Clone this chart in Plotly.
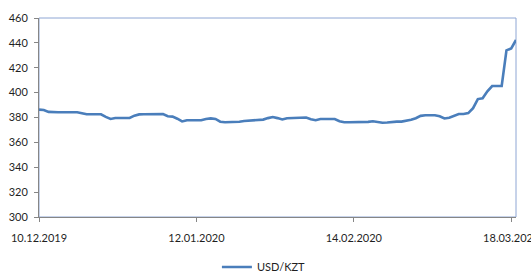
import pandas as pd
import plotly.graph_objects as go

start_date = "2019-12-10"
end_date = "2020-03-19"
dates = pd.date_range(start_date, end_date, freq="D")

usd_kzt = [
    386.3, 386.0, 384.5, 384.2, 384.2, 384.2, 384.2, 384.2, 384.2, 383.5,
    382.6, 382.6, 382.6, 382.6, 380.5, 378.8, 379.6, 379.6, 379.6, 379.6,
    381.5, 382.5, 382.6, 382.8, 382.8, 382.8, 382.8, 381.0, 380.7, 379.0,
    376.8, 377.8, 377.8, 377.8, 377.8, 378.8, 379.3, 378.8, 376.6, 376.2,
    376.2, 376.2, 376.6, 377.2, 377.6, 378.0, 378.3, 378.3, 379.5, 380.4,
    379.5, 378.4, 379.4, 379.4, 379.4, 380.0, 380.0, 378.6, 377.8, 378.8,
    378.8, 378.8, 378.8, 377.0, 376.2, 376.2, 376.2, 376.2, 376.2, 376.5,
    377.0, 376.4, 375.8, 376.0, 376.5, 376.7, 376.7, 377.3, 378.2, 379.4,
    381.3, 381.8, 381.8, 381.8, 381.0, 379.2, 379.8, 381.5, 382.8, 382.8,
    383.5, 387.5, 394.8, 395.5, 401.0, 405.3, 405.3, 405.3, 434.0, 435.5,
    442.3,
]

tick_dates = ["2019-12-10", "2020-01-12", "2020-02-14", "2020-03-18"]
tick_labels = ["10.12.2019", "12.01.2020", "14.02.2020", "18.03.2020"]

y_ticks = [300, 320, 340, 360, 380, 400, 420, 440, 460]
series_name = "USD/KZT"

fig = go.Figure()
fig.add_trace(go.Scatter(
    x=dates, y=usd_kzt, mode="lines", name=series_name,
    line=dict(color="#4A7EBB", width=2.6),
))

fig.add_shape(type="rect", xref="paper", yref="paper", x0=0, y0=0, x1=1, y1=1,
              line=dict(color="#8EA6D4", width=1), layer="below")

fig.update_layout(
    width=531, height=273,
    margin=dict(l=39, r=15, t=18, b=56),
    paper_bgcolor="white", plot_bgcolor="rgba(0,0,0,0)",
    font=dict(family="Lato, Liberation Sans, sans-serif", size=11, color="#1f1f1f"),
    showlegend=True,
    legend=dict(orientation="h", xref="container", yref="container",
                x=0.497, xanchor="center", y=0.022, yanchor="middle",
                font=dict(size=11), bgcolor="rgba(0,0,0,0)"),
    xaxis=dict(
        type="date", range=[start_date, end_date], automargin=False,
        tickmode="array", tickvals=tick_dates, ticktext=tick_labels,
        ticklabeloverflow="allow", ticklabelstandoff=7,
        showgrid=False, zeroline=False,
        showline=True, linecolor="#868686", linewidth=1,
        ticks="outside", ticklen=4, tickcolor="#868686",
    ),
    yaxis=dict(
        range=[300, 460], tickmode="array", tickvals=y_ticks, automargin=False,
        ticklabelstandoff=4,
        showgrid=False, zeroline=False,
        showline=True, linecolor="#868686", linewidth=1,
        ticks="outside", ticklen=4, tickcolor="#868686",
    ),
)

fig.write_html("out.html", config={"displayModeBar": False},
               post_script="document.body.style.margin='0';document.body.style.overflow='hidden';")
